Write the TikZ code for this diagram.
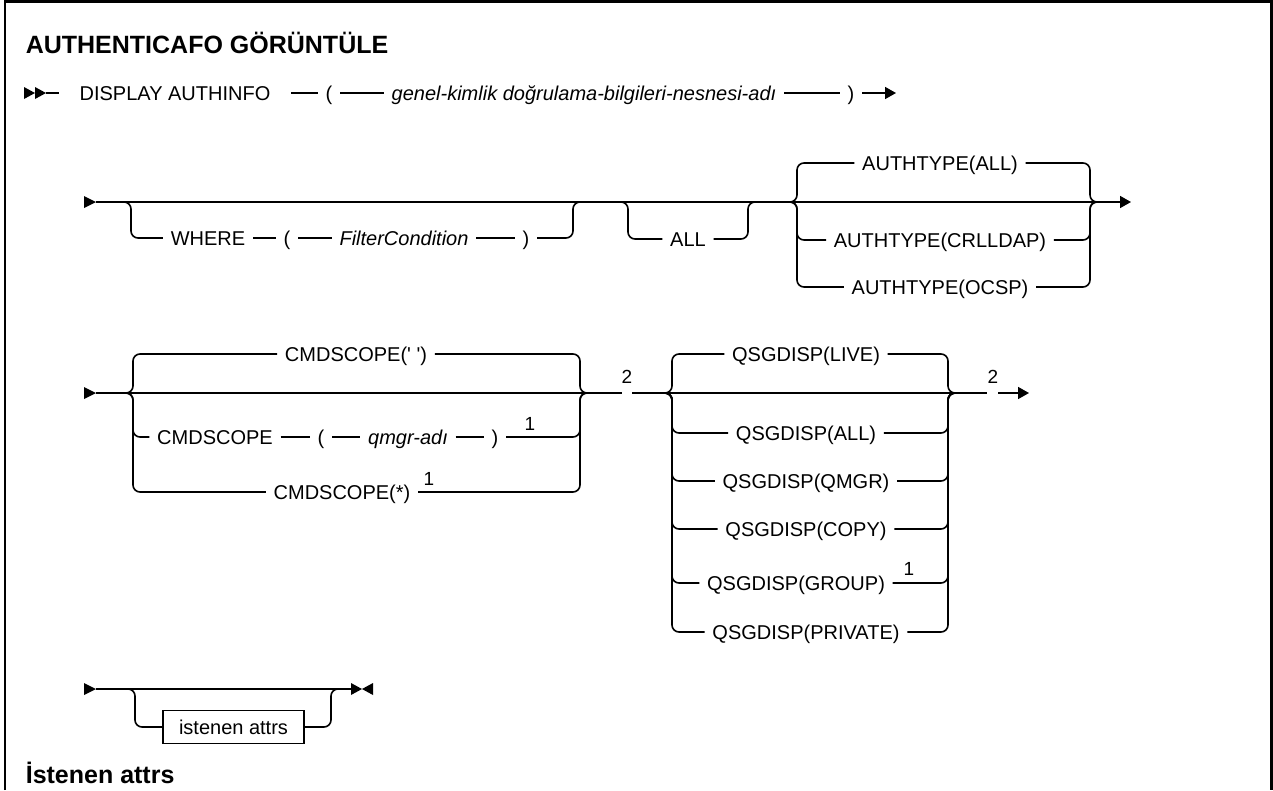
\documentclass[tikz,border=0pt]{standalone}
\usepackage{fontspec}
\setmainfont{Liberation Sans}
\usetikzlibrary{arrows.meta,positioning}

\begin{document}
\begin{tikzpicture}[
  x=1pt, y=-1pt,
  line width=1.6pt,
  kw/.style={font=\fontsize{20}{24}\selectfont, inner xsep=7pt, inner ysep=0pt, text height=14.3pt, text depth=0pt},
  var/.style={kw, font=\fontsize{20}{24}\selectfont\itshape},
  fn/.style={font=\fontsize{19}{22}\selectfont, inner sep=0pt, anchor=base},
  attrbox/.style={kw, draw, minimum width=141pt, minimum height=33pt},
  heading/.style={font=\fontsize{25}{30}\selectfont\bfseries, inner sep=0pt, anchor=base west},
  endarrow/.style={-{Triangle[length=11pt,width=12pt]}},
  rnd/.style={rounded corners=7pt}
]
  \useasboundingbox (0,0) rectangle (1273,790);
  \draw[line width=2.8pt] (5,790) -- (5,1.5) -- (1271.5,1.5) -- (1271.5,790);

  \node[heading] (title) at (25,53) {AUTHENTICAFO GÖRÜNTÜLE};
  \node[heading] (attrhead) at (25,783) {İstenen attrs};

  % first line
  \coordinate (s1) at (46,93);
  \coordinate (e1) at (896,93);
  \fill (s1) -- ++(-11,-6) -- ++(0,12) -- cycle;
  \fill ([xshift=-11pt]s1) -- ++(-11,-6) -- ++(0,12) -- cycle;
  \node[kw,inner xsep=20pt] (disp) at (175,93) {DISPLAY AUTHINFO};
  \node[kw] (lp1) at (329,93) {(};
  \node[var] (objname) at (584,93) {genel-kimlik doğrulama-bilgileri-nesnesi-adı};
  \node[kw] (rp1) at (851,93) {)};
  \draw (s1) -- (disp.west);
  \draw (disp.east) -- (lp1.west);
  \draw (lp1.east) -- (objname.west);
  \draw (objname.east) -- (rp1.west);
  \draw[endarrow] (rp1.east) -- (e1);

  % where / all / authtype
  \coordinate (s2) at (96,202);
  \coordinate (e2) at (1131,202);
  \fill (s2) -- ++(-12,-6) -- ++(0,12) -- cycle;
  \draw[endarrow] (s2) -- (e2);

  \coordinate (whL) at (131,202);
  \coordinate (whR) at (573,202);
  \node[kw] (where) at (208,238) {WHERE};
  \node[kw] (lp2) at (287,238) {(};
  \node[var] (filt) at (404,238) {FilterCondition};
  \node[kw] (rp2) at (526,238) {)};
  \draw[rnd] ([xshift=-8pt]whL) -- (whL) |- (where.west);
  \draw (where.east) -- (lp2.west);
  \draw (lp2.east) -- (filt.west);
  \draw (filt.east) -- (rp2.west);
  \draw[rnd] (rp2.east) -| (whR) -- ([xshift=8pt]whR);

  \coordinate (alL) at (628,202);
  \coordinate (alR) at (748,202);
  \node[kw] (allopt) at (688,239) {ALL};
  \draw[rnd] ([xshift=-8pt]alL) -- (alL) |- (allopt.west);
  \draw[rnd] (allopt.east) -| (alR) -- ([xshift=8pt]alR);

  \coordinate (atL) at (797,202);
  \coordinate (atR) at (1090,202);
  \node[kw] (atall) at (940,163) {AUTHTYPE(ALL)};
  \node[kw] (atcrl) at (940,240) {AUTHTYPE(CRLLDAP)};
  \node[kw] (atocsp) at (940,287) {AUTHTYPE(OCSP)};
  \draw[rnd] ([xshift=-8pt]atL) -- (atL) |- (atall.west);
  \draw[rnd] (atall.east) -| (atR) -- ([xshift=8pt]atR);
  \draw[rnd] ([xshift=-8pt]atL) -- (atL) |- (atcrl.west);
  \draw[rnd] (atcrl.east) -| (atR) -- ([xshift=8pt]atR);
  \draw[rnd] ([xshift=-8pt]atL) -- (atL) |- (atocsp.west);
  \draw[rnd] (atocsp.east) -| (atR) -- ([xshift=8pt]atR);

  % cmdscope / qsgdisp
  \coordinate (s3) at (96,393);
  \coordinate (g1L) at (622,393);
  \coordinate (g1R) at (632,393);
  \coordinate (g2L) at (987,393);
  \coordinate (g2R) at (998,393);
  \coordinate (e3) at (1029,393);
  \fill (s3) -- ++(-12,-6) -- ++(0,12) -- cycle;
  \draw (s3) -- (g1L);
  \draw (g1R) -- (g2L);
  \draw[endarrow] (g2R) -- (e3);
  \node[fn] (fn2a) at (627,383) {2};
  \node[fn] (fn2b) at (993,383) {2};

  \coordinate (cmL) at (133,393);
  \coordinate (cmR) at (580,393);
  \node[kw] (cmdq) at (356,354) {CMDSCOPE(\textquotesingle\ \textquotesingle)};
  \node[kw] (cmdkw) at (215,437) {CMDSCOPE};
  \node[kw] (lp3) at (321,437) {(};
  \node[var] (qmgr) at (408,437) {qmgr-adı};
  \node[kw] (rp3) at (495,437) {)};
  \node[fn] (fn1a) at (530,430) {1};
  \node[kw] (cmdstar) at (342,492) {CMDSCOPE(*)};
  \node[fn] (fn1b) at (429,485) {1};
  \draw[rnd] ([xshift=-8pt]cmL) -- (cmL) |- (cmdq.west);
  \draw[rnd] (cmdq.east) -| (cmR) -- ([xshift=8pt]cmR);
  \draw[rnd] ([xshift=-8pt]cmL) -- (cmL) |- (cmdkw.west);
  \draw (cmdkw.east) -- (lp3.west);
  \draw (lp3.east) -- (qmgr.west);
  \draw (qmgr.east) -- (rp3.west);
  \draw[rnd] (rp3.east) -| (cmR) -- ([xshift=8pt]cmR);
  \draw[rnd] ([xshift=-8pt]cmL) -- (cmL) |- (cmdstar.west);
  \draw[rnd] (cmdstar.east) -| (cmR) -- ([xshift=8pt]cmR);

  \coordinate (qsL) at (672,393);
  \coordinate (qsR) at (948,393);
  \node[kw] (qslive) at (806,354) {QSGDISP(LIVE)};
  \node[kw] (qsall) at (806,433) {QSGDISP(ALL)};
  \node[kw] (qsqmgr) at (806,481) {QSGDISP(QMGR)};
  \node[kw] (qscopy) at (806,529) {QSGDISP(COPY)};
  \node[kw] (qsgroup) at (796,583) {QSGDISP(GROUP)};
  \node[fn] (fn1c) at (909,575) {1};
  \node[kw] (qspriv) at (806,632) {QSGDISP(PRIVATE)};
  \draw[rnd] ([xshift=-8pt]qsL) -- (qsL) |- (qslive.west);
  \draw[rnd] (qslive.east) -| (qsR) -- ([xshift=8pt]qsR);
  \draw[rnd] ([xshift=-8pt]qsL) -- (qsL) |- (qsall.west);
  \draw[rnd] (qsall.east) -| (qsR) -- ([xshift=8pt]qsR);
  \draw[rnd] ([xshift=-8pt]qsL) -- (qsL) |- (qsqmgr.west);
  \draw[rnd] (qsqmgr.east) -| (qsR) -- ([xshift=8pt]qsR);
  \draw[rnd] ([xshift=-8pt]qsL) -- (qsL) |- (qscopy.west);
  \draw[rnd] (qscopy.east) -| (qsR) -- ([xshift=8pt]qsR);
  \draw[rnd] ([xshift=-8pt]qsL) -- (qsL) |- (qsgroup.west);
  \draw[rnd] (qsgroup.east) -| (qsR) -- ([xshift=8pt]qsR);
  \draw[rnd] ([xshift=-8pt]qsL) -- (qsL) |- (qspriv.west);
  \draw[rnd] (qspriv.east) -| (qsR) -- ([xshift=8pt]qsR);

  % requested attrs
  \coordinate (s4) at (96,689);
  \coordinate (e4) at (351,689);
  \fill (s4) -- ++(-12,-6) -- ++(0,12) -- cycle;
  \draw (s4) -- (e4);
  \fill (e4) ++(0,-6) -- ++(11,6) -- ++(-11,6) -- cycle;
  \fill (e4) ++(22,-6) -- ++(-11,6) -- ++(11,6) -- cycle;
  \coordinate (rqL) at (135,689);
  \coordinate (rqR) at (331,689);
  \node[attrbox] (attrs) at (233.5,727) {istenen attrs};
  \draw[rnd] ([xshift=-8pt]rqL) -- (rqL) |- (attrs.west);
  \draw[rnd] (attrs.east) -| (rqR) -- ([xshift=8pt]rqR);
\end{tikzpicture}
\end{document}
